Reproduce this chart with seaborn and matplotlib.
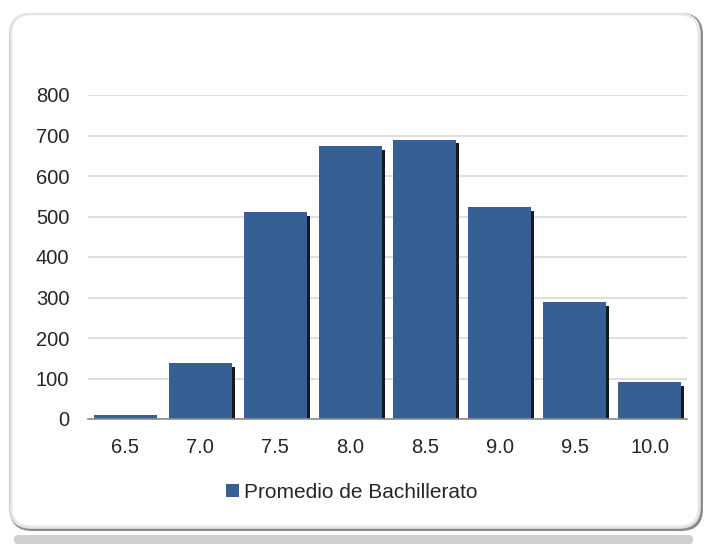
import matplotlib
matplotlib.use("Agg")
import matplotlib.pyplot as plt
import matplotlib.patheffects as pe
from matplotlib.patches import FancyBboxPatch
import seaborn as sns
import pandas as pd

categories = ["6.5", "7.0", "7.5", "8.0", "8.5", "9.0", "9.5", "10.0"]
values = [10, 139, 512, 675, 690, 524, 288, 92]
series_name = "Promedio de Bachillerato"
yticks = [0, 100, 200, 300, 400, 500, 600, 700, 800]

sns.set_theme(style="white")
plt.rcParams['font.family'] = ['Liberation Sans', 'DejaVu Sans']

W, H, DPI = 707, 544, 100
fig = plt.figure(figsize=(W / DPI, H / DPI), dpi=DPI)
fig.patch.set_facecolor("white")

def add_box(xy, w, h, r, fc, ec="none", lw=0, z=-10):
    p = FancyBboxPatch(xy, w, h, boxstyle=f"round,pad=0,rounding_size={r}",
                       transform=None, facecolor=fc, edgecolor=ec, lw=lw, zorder=z)
    fig.add_artist(p)

# bottom reflection strip
add_box((14, 0), W - 28, 9, 4, "#cfcfcf", z=-10)
# frame shadow
add_box((10, 13), W - 14, H - 26, 22, "#8a8a8a", z=-9)
add_box((9, 15), W - 15, H - 28, 22, "#bdbdbd", z=-8)
# frame
add_box((11, 17), W - 19, H - 31, 20, "white", ec="#e6e6e6", lw=2, z=-7)

ax = fig.add_axes([88 / W, 1 - 419 / H, (687 - 88) / W, (419 - 95) / H])
ax.set_facecolor("none")
ax.set_zorder(1)

df = pd.DataFrame({"Promedio": categories, "Cantidad": values})
sns.barplot(data=df, x="Promedio", y="Cantidad", order=categories, color="#365f93",
            saturation=1, width=0.84, ax=ax, zorder=3, label=series_name)
for p in ax.patches:
    p.set_path_effects([pe.SimplePatchShadow(offset=(2.2, -2.8), shadow_rgbFace="#0d0d0d", alpha=0.95),
                        pe.Normal()])
    p.set_edgecolor("none")

ax.set_ylim(0, 800)
ax.set_yticks(yticks)
ax.yaxis.grid(True, color="#d9d9d9", lw=1.2, zorder=0)
ax.set_axisbelow(True)
for s in ["top", "right", "left"]:
    ax.spines[s].set_visible(False)
ax.spines["bottom"].set_color("#8c8c8c")
ax.spines["bottom"].set_linewidth(1.2)
ax.spines["bottom"].set_zorder(5)
ax.tick_params(axis="both", length=0, labelsize=14.5, colors="#262626")
ax.tick_params(axis="y", pad=13.5)
ax.tick_params(axis="x", pad=13.5)
ax.set_xlabel("")
ax.set_ylabel("")
ax.set_xlim(-0.5, len(categories) - 0.5)

leg = ax.legend(loc="center", bbox_to_anchor=(352 / W, 1 - 492 / H), bbox_transform=fig.transFigure,
                frameon=False, fontsize=15, handlelength=0.6, handleheight=0.6, handletextpad=0.25,
                labelcolor="#262626")
for h in leg.legend_handles:
    h.set_path_effects([])

fig.savefig("out.png", dpi=DPI)
